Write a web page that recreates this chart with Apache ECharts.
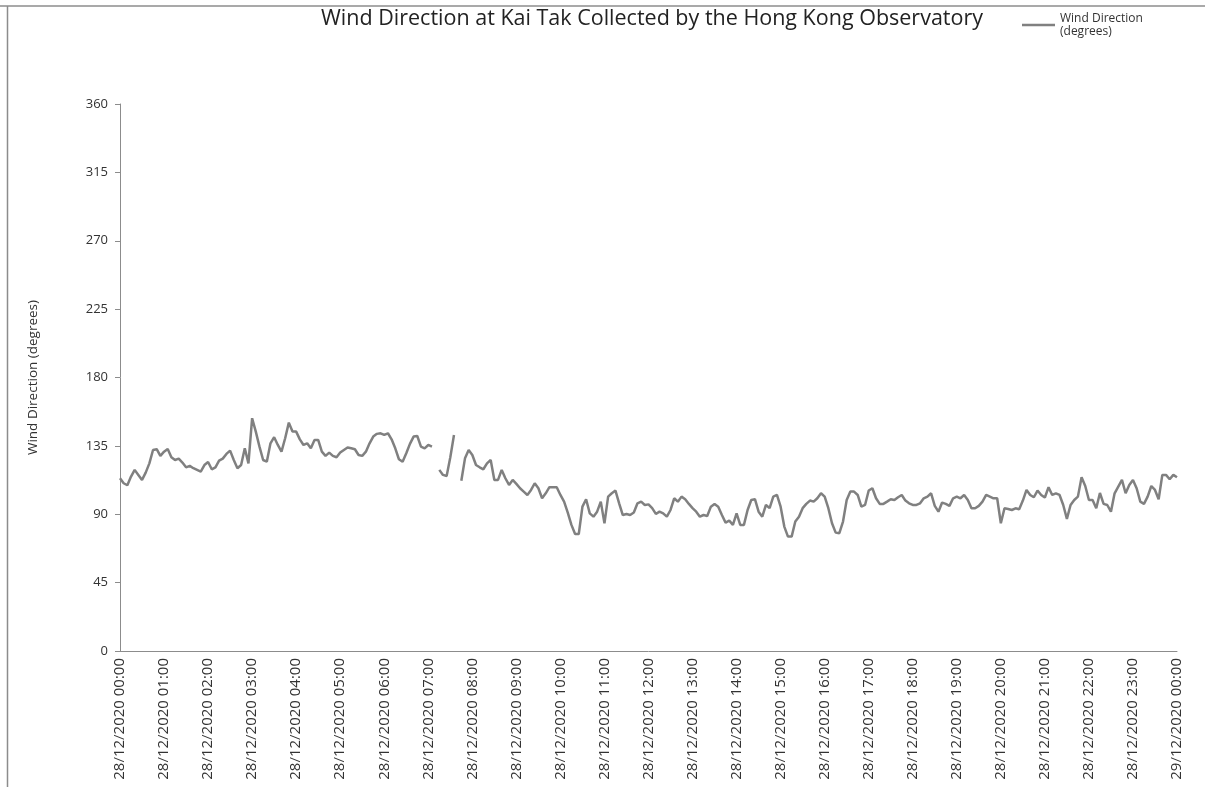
<!DOCTYPE html>
<html>
<head>
<meta charset="utf-8">
<script src="https://cdn.jsdelivr.net/npm/echarts@6/dist/echarts.min.js"></script>
<style>
html,body{margin:0;padding:0;background:#fff;}
#chart{width:1205px;height:787px;}
</style>
</head>
<body>
<div id="chart"></div>
<script>
// Sample times: one value every 5 minutes from 28/12/2020 00:00 to 29/12/2020 00:00
const stepMinutes = 5;
const windDirection = [
  113.7,110.4,109.1,114.8,119.2,115.9,112.6,117.4,123.5,132.3,132.8,128.4,
  131.2,133.0,127.5,125.7,126.6,124.0,120.9,121.8,120.3,119.2,118.1,122.4,
  124.4,119.6,120.9,125.3,126.6,129.7,131.9,125.7,120.3,122.4,133.4,123.5,
  153.2,144.4,134.5,125.7,124.6,136.7,140.7,135.6,131.2,140.0,150.3,144.4,
  144.4,139.3,135.6,136.7,133.4,138.9,138.9,131.2,128.4,130.6,128.4,127.5,
  130.6,132.3,133.9,133.4,132.8,129.0,128.4,131.2,136.7,141.1,142.9,143.3,
  142.2,143.3,139.3,133.4,126.2,124.6,130.1,136.3,141.1,141.5,134.5,133.4,
  135.6,134.5,null,119.2,115.9,115.2,127.5,142.2,null,112.0,126.8,132.3,
  129.0,122.4,120.9,119.6,123.5,125.7,112.6,112.6,119.2,113.7,109.3,112.6,
  110.0,107.1,104.9,102.7,106.0,110.4,107.1,100.5,103.8,107.8,107.8,107.8,
  102.7,98.3,91.1,83.0,77.0,77.0,95.0,99.9,90.6,88.4,91.7,98.3,
  84.0,101.6,103.8,105.6,97.2,89.5,90.2,89.5,91.1,97.2,98.3,96.1,
  96.5,94.0,90.2,91.7,90.6,88.4,92.8,100.5,98.3,101.6,99.9,96.8,
  94.0,91.7,88.4,89.5,88.9,95.0,96.8,95.0,89.5,84.5,85.8,83.0,
  90.6,83.0,83.0,92.8,99.4,99.9,91.7,88.4,96.1,94.0,101.6,102.7,
  95.0,81.9,75.3,75.3,85.2,88.4,94.0,96.8,99.0,98.3,100.5,103.8,
  101.6,94.0,84.1,77.9,77.5,85.2,99.4,104.9,104.9,102.7,95.0,96.1,
  105.6,107.1,100.5,96.8,96.8,98.3,99.9,99.4,101.2,102.7,99.0,97.2,
  96.1,96.1,97.2,100.5,101.6,103.8,95.5,91.7,97.7,96.8,95.5,100.5,
  101.6,100.5,102.7,99.4,93.9,93.9,95.5,98.3,102.7,101.6,100.5,100.5,
  84.1,93.9,93.5,92.8,93.9,93.3,99.0,106.0,102.7,101.2,105.6,102.7,
  101.0,107.8,102.7,103.8,102.7,96.1,87.0,96.1,99.4,101.6,114.3,108.6,
  99.4,99.4,93.9,104.0,96.8,96.1,91.7,103.8,108.2,112.6,103.8,109.3,
  112.6,107.1,98.3,96.8,101.6,108.6,106.0,99.9,115.9,115.9,113.0,115.9,
  114.3
];
const xTickLabels = [
  "28/12/2020 00:00","28/12/2020 01:00","28/12/2020 02:00","28/12/2020 03:00",
  "28/12/2020 04:00","28/12/2020 05:00","28/12/2020 06:00","28/12/2020 07:00",
  "28/12/2020 08:00","28/12/2020 09:00","28/12/2020 10:00","28/12/2020 11:00",
  "28/12/2020 12:00","28/12/2020 13:00","28/12/2020 14:00","28/12/2020 15:00",
  "28/12/2020 16:00","28/12/2020 17:00","28/12/2020 18:00","28/12/2020 19:00",
  "28/12/2020 20:00","28/12/2020 21:00","28/12/2020 22:00","28/12/2020 23:00",
  "29/12/2020 00:00"
];
const yTicks = [0,45,90,135,180,225,270,315,360];
const chartTitle = "Wind Direction at Kai Tak Collected by the Hong Kong Observatory";
const seriesName = "Wind Direction (degrees)";
const yAxisName = "Wind Direction (degrees)";

const seriesData = windDirection.map((v, i) => [i * stepMinutes, v]);

const chart = echarts.init(document.getElementById('chart'), null, {renderer: 'canvas'});
const labelFont = '"Open Sans", "Liberation Sans", sans-serif';
chart.setOption({
  backgroundColor: '#ffffff',
  animation: false,
  title: {
    text: chartTitle,
    left: 647, textAlign: 'center', top: 3,
    textStyle: {fontFamily: labelFont, fontSize: 21.5, fontWeight: 'normal', color: '#222'}
  },
  legend: {
    left: 1022, top: 12, padding: 0,
    icon: 'rect',
    itemWidth: 33, itemHeight: 2.5, itemGap: 6,
    formatter: () => 'Wind Direction\n(degrees)',
    textStyle: {fontFamily: labelFont, fontSize: 12, color: '#333', lineHeight: 13},
    data: [seriesName]
  },
  grid: {left: 120, right: 28, top: 104, bottom: 136, containLabel: false},
  xAxis: {
    type: 'value', min: 0, max: 1440, interval: 60,
    axisLine: {show: true, lineStyle: {color: '#8c8c8c', width: 1}},
    axisTick: {show: false},
    splitLine: {show: false},
    axisLabel: {
      rotate: 90, margin: 7, color: '#333',
      fontFamily: labelFont, fontSize: 15,
      formatter: (v) => xTickLabels[Math.round(v / 60)] || ''
    }
  },
  yAxis: {
    type: 'value', min: yTicks[0], max: yTicks[yTicks.length - 1], interval: 45,
    name: yAxisName, nameLocation: 'middle', nameGap: 80, nameRotate: 90,
    nameTextStyle: {fontFamily: labelFont, fontSize: 13.5, color: '#333'},
    axisLine: {show: true, lineStyle: {color: '#8c8c8c', width: 1}},
    axisTick: {show: true, inside: false, length: 5, lineStyle: {color: '#8c8c8c'}},
    splitLine: {show: false},
    axisLabel: {margin: 12, color: '#333', fontFamily: labelFont, fontSize: 13}
  },
  series: [{
    name: seriesName,
    type: 'line',
    data: seriesData,
    symbol: 'none',
    connectNulls: false,
    lineStyle: {color: '#808080', width: 2.5},
    itemStyle: {color: '#808080'}
  }],
  graphic: [
    {type: 'line', shape: {x1: 0, y1: 6, x2: 1205, y2: 6}, style: {stroke: '#8c8c8c', lineWidth: 1.5}, silent: true},
    {type: 'line', shape: {x1: 7.5, y1: 6, x2: 7.5, y2: 787}, style: {stroke: '#8c8c8c', lineWidth: 1.5}, silent: true}
  ]
});
</script>
</body>
</html>
